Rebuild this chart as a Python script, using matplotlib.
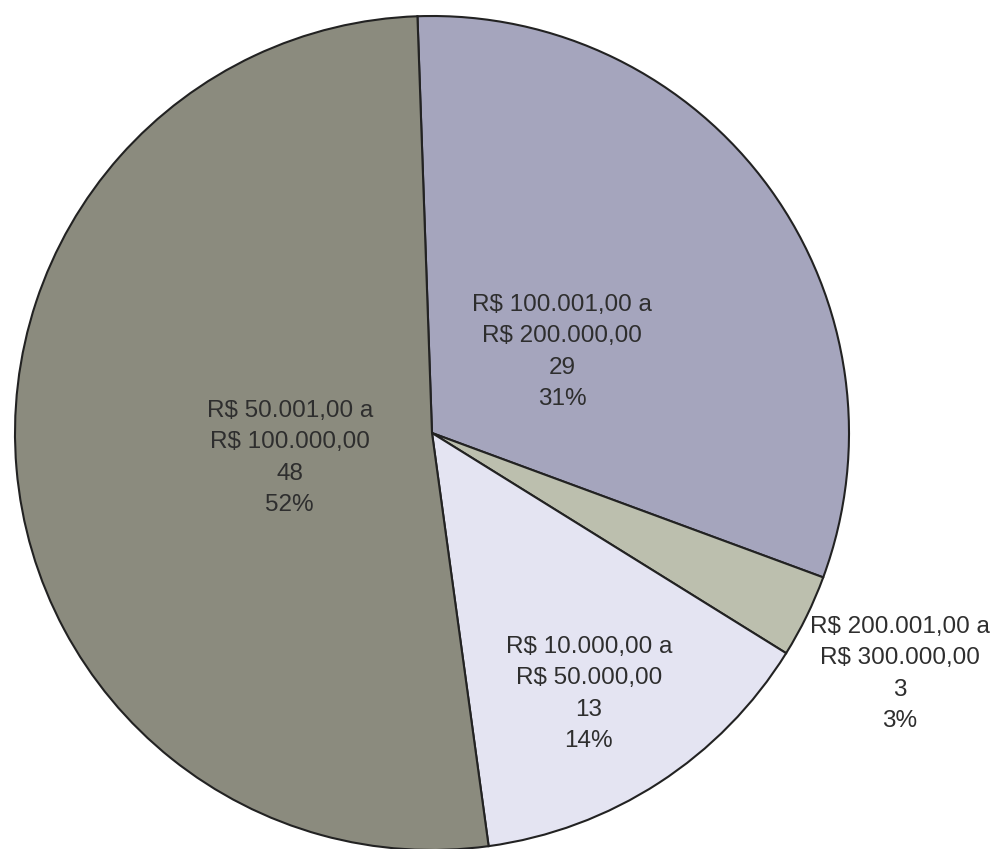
import matplotlib.pyplot as plt

# Faixas de valor e contagens
faixas = ['R$ 100.001,00 a\nR$ 200.000,00',
          'R$ 200.001,00 a\nR$ 300.000,00',
          'R$ 10.000,00 a\nR$ 50.000,00',
          'R$ 50.001,00 a\nR$ 100.000,00']
contagens = [29, 3, 13, 48]
percentuais = ['31%', '3%', '14%', '52%']

cores = ['#a5a5bd', '#bcbfae', '#e4e4f2', '#8b8b7e']
# label centres, in pie-radius units
label_pos = [(0.312, 0.194), (1.122, -0.578), (0.376, -0.626), (-0.341, -0.060)]

fig = plt.figure(figsize=(9.99, 8.49), dpi=100)
ax = fig.add_axes([0, 0, 1, 1])

wedges, _ = ax.pie(contagens, colors=cores, startangle=92, counterclock=False,
                   wedgeprops=dict(edgecolor='#222222', linewidth=1.5))

for f, c, p, (x, y) in zip(faixas, contagens, percentuais, label_pos):
    ax.text(x, y, f'{f}\n{c}\n{p}', ha='center', va='center',
            fontsize=17.5, color='#2e2e2e', family='Liberation Sans',
            linespacing=1.55)

# centre at (432, 433) px, radius 417 px
cx, cy, r = 432, 433, 417
ax.set_aspect('auto')
ax.set_xlim(-cx / r, (999 - cx) / r)
ax.set_ylim(-(849 - cy) / r, cy / r)
ax.axis('off')

fig.savefig('out.png', dpi=100)
